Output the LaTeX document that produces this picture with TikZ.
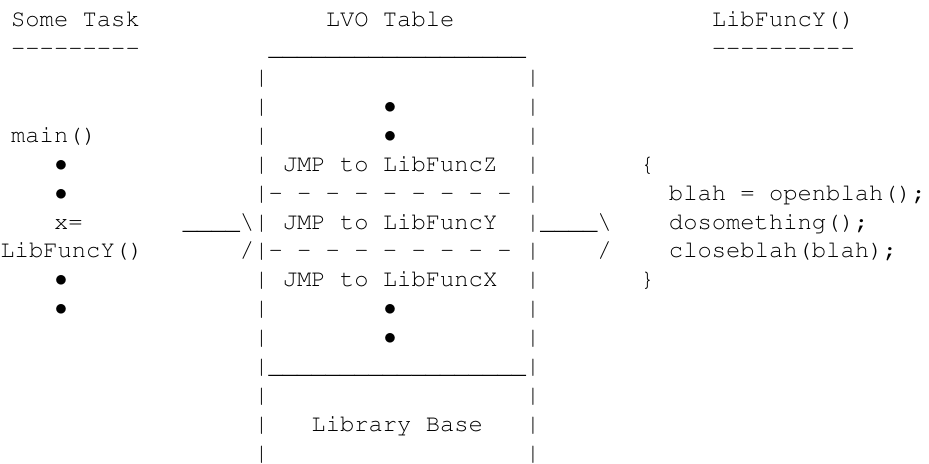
\documentclass[tikz,border=0pt]{standalone}
\usepackage[T1]{fontenc}
\usepackage{textcomp}
\usepackage{courier}
\tikzset{
  ascii/.style={anchor=base west, inner sep=0pt, outer sep=0pt,
    font=\ttfamily\fontsize{23.83pt}{28.9pt}\selectfont}
}
\newcommand{\dotmark}{\makebox[0.6em]{$\bullet$}}
\begin{document}
\begin{tikzpicture}[x=14.3pt, y=-28.9pt]
    \useasboundingbox (-0.78,-0.924) rectangle (64.185,15.097);

    % walls of the LVO table
    \foreach \r in {2,...,15}{
        \node[ascii] (lwall\r) at (17,\r) {|};
        \node[ascii] (rwall\r) at (36,\r) {|};
    }
    % dots
    \foreach \c/\r in {26/3, 26/4, 26/10, 26/11, 3/5, 3/6, 3/9, 3/10}{
        \node[ascii] (dot-\c-\r) at (\c,\r) {\dotmark};
    }
    % text, column/row/text
    \foreach \c/\r/\txt [count=\k] in {
        0/0/{Some Task},
        22/0/{LVO Table},
        49/0/{LibFuncY()},
        0/1/{-{}-{}-{}-{}-{}-{}-{}-{}-},
        18/1/{\_\_\_\_\_\_\_\_\_\_\_\_\_\_\_\_\_\_},
        49/1/{-{}-{}-{}-{}-{}-{}-{}-{}-{}-},
        0/4/{main()},
        19/5/{JMP to LibFuncZ},
        44/5/{\{},
        18/6/{- - - - - - - - -},
        46/6/{blah = openblah();},
        3/7/{x=},
        12/7/{\_\_\_\_\textbackslash},
        19/7/{JMP to LibFuncY},
        37/7/{\_\_\_\_\textbackslash},
        46/7/{dosomething();},
        -0.75/8/{LibFuncY()},
        16/8/{/},
        18/8/{- - - - - - - - -},
        41/8/{/},
        46/8/{closeblah(blah);},
        19/9/{JMP to LibFuncX},
        44/9/{\}},
        18/12/{\_\_\_\_\_\_\_\_\_\_\_\_\_\_\_\_\_\_},
        21/14/{Library Base}
    }{
        \node[ascii] (txt\k) at (\c,\r) {\txt};
    }
\end{tikzpicture}
\end{document}
